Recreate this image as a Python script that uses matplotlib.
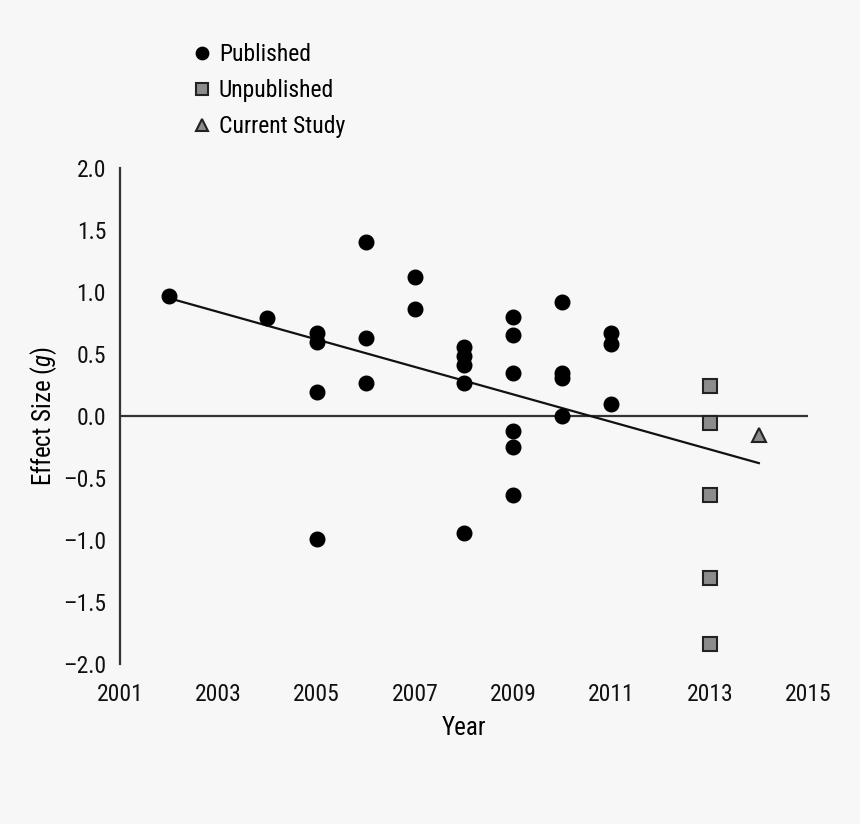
import matplotlib
matplotlib.use("Agg")
import matplotlib.pyplot as plt
import numpy as np
from matplotlib import font_manager

fams = {f.name for f in font_manager.fontManager.ttflist}
pref = ['Roboto Condensed', 'Liberation Sans Narrow', 'Arial Narrow', 'Roboto']
fam = [f for f in pref if f in fams][:1] + ['DejaVu Sans']
plt.rcParams['font.family'] = fam
plt.rcParams['mathtext.fontset'] = 'custom'
plt.rcParams['mathtext.it'] = fam[0] + ':italic'
plt.rcParams['mathtext.rm'] = fam[0]

# Data
pub_years = [2002, 2004, 2005, 2005, 2005, 2005, 2006, 2006, 2006, 2007, 2007,
             2008, 2008, 2008, 2008, 2008, 2009, 2009, 2009, 2009, 2009, 2009,
             2010, 2010, 2010, 2010, 2011, 2011, 2011]
pub_g = [0.97, 0.79, 0.67, 0.60, 0.19, -0.99, 1.40, 0.63, 0.27, 1.12, 0.86,
         0.56, 0.48, 0.41, 0.27, -0.94, 0.80, 0.65, 0.35, -0.12, -0.25, -0.64,
         0.92, 0.35, 0.31, 0.00, 0.67, 0.58, 0.10]
unpub_years = [2013, 2013, 2013, 2013, 2013]
unpub_g = [0.24, -0.06, -0.64, -1.31, -1.84]
cur_years = [2014]
cur_g = [-0.15]
trend_years = [2002, 2014]
trend_g = [0.95, -0.38]

xticks = [2001, 2003, 2005, 2007, 2009, 2011, 2013, 2015]
yticks = [2.0, 1.5, 1.0, 0.5, 0.0, -0.5, -1.0, -1.5, -2.0]

bg = '#f7f7f7'
fig = plt.figure(figsize=(8.6, 8.24), dpi=100, facecolor=bg)
ax = fig.add_axes([120/860, 1-664/824, 688/860, 496/824], facecolor=bg)

ax.axhline(0, color='#333333', lw=1.6, zorder=1)
ax.plot(trend_years, trend_g, color='#111111', lw=1.6, zorder=2)
h1, = ax.plot(pub_years, pub_g, 'o', color='black', ms=10.5, ls='none', zorder=3, label='Published')
h2, = ax.plot(unpub_years, unpub_g, 's', mfc='#8c8c8c', mec='#222222', mew=1.5, ms=10, ls='none', zorder=3, label='Unpublished')
h3, = ax.plot(cur_years, cur_g, '^', mfc='#8c8c8c', mec='#222222', mew=1.5, ms=10, ls='none', zorder=3, label='Current Study')

ax.set_xlim(2001, 2015)
ax.set_ylim(-2.0, 2.0)
ax.set_xticks(xticks)
ax.set_xticklabels([str(x) for x in xticks])
ax.set_yticks(yticks)
ax.set_yticklabels([('\u2013' if v < 0 else '') + f'{abs(v):.1f}' for v in yticks])
ax.tick_params(axis='both', length=0, labelsize=17, colors='#111111')
ax.tick_params(axis='x', pad=14)
ax.tick_params(axis='y', pad=10)
for s in ['top', 'right', 'bottom']:
    ax.spines[s].set_visible(False)
ax.spines['left'].set_color('#333333')
ax.spines['left'].set_linewidth(1.6)

ax.set_xlabel('Year', fontsize=18, labelpad=7)
ax.set_ylabel('Effect Size ($g$)', fontsize=18, labelpad=3)

fig.legend(handles=[h1, h2, h3], loc='upper left', bbox_to_anchor=(181/860, 1-34/824),
           frameon=False, fontsize=17, markerscale=0.85, handlelength=1.0,
           handletextpad=0.2, labelspacing=0.55, borderaxespad=0)

fig.savefig('out.png', dpi=100, facecolor=bg)
